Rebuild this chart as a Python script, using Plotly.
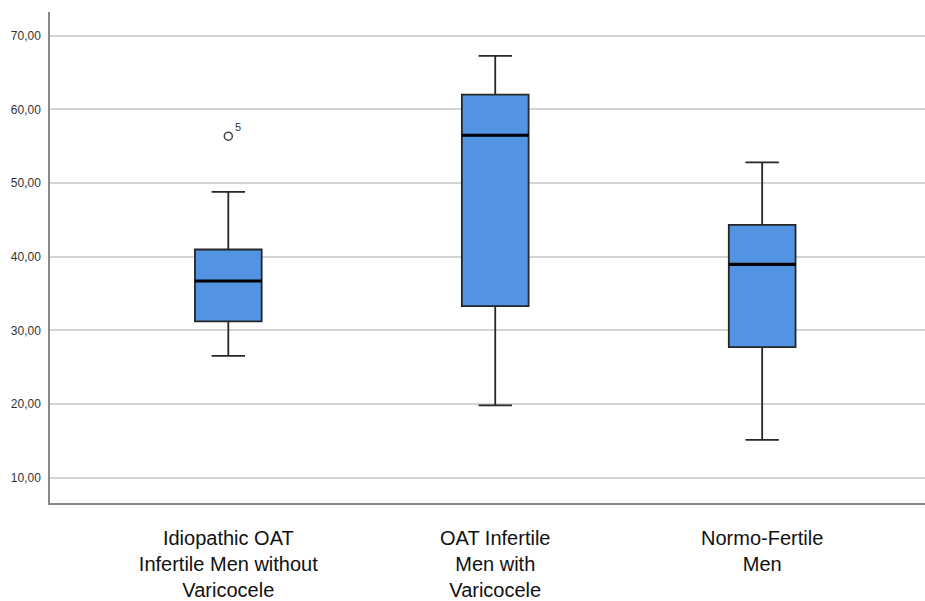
import plotly.graph_objects as go

categories = ["Idiopathic OAT<br>Infertile Men without<br>Varicocele",
              "OAT Infertile<br>Men with<br>Varicocele",
              "Normo-Fertile<br>Men"]
q1 = [31.23, 33.30, 27.74]
median = [36.71, 56.48, 38.96]
q3 = [40.98, 62.00, 44.31]
lower_whisker = [26.56, 19.83, 15.15]
upper_whisker = [48.80, 67.26, 52.80]
outlier_group = [0]
outlier_value = [56.35]
outlier_label = ["5"]
y_ticks = [10, 20, 30, 40, 50, 60, 70]

box_width = 0.25
xpos = list(range(len(categories)))

fig = go.Figure()
fig.add_trace(go.Box(
    x=xpos, q1=q1, median=median, q3=q3,
    lowerfence=lower_whisker, upperfence=upper_whisker,
    width=box_width, whiskerwidth=0.5,
    fillcolor="#5294E2", line=dict(color="#262626", width=1.8),
    boxpoints=False, hoverinfo="skip", showlegend=False,
))
# thick median lines
for xi, m in zip(xpos, median):
    fig.add_trace(go.Scatter(
        x=[xi - box_width / 2, xi + box_width / 2], y=[m, m], mode="lines",
        line=dict(color="#000000", width=3.2), showlegend=False, hoverinfo="skip",
    ))
fig.add_trace(go.Scatter(
    x=[xpos[g] for g in outlier_group], y=outlier_value, mode="markers",
    marker=dict(symbol="circle-open", size=8, color="#444444", line=dict(width=1.5)),
    showlegend=False, hoverinfo="skip",
))
for g, v, lab in zip(outlier_group, outlier_value, outlier_label):
    fig.add_annotation(x=xpos[g], y=v, text=lab, showarrow=False,
                       xshift=10, yshift=9,
                       font=dict(family="Liberation Sans, Arial", size=11, color="#333333"))

fig.update_layout(
    width=925, height=601,
    margin=dict(l=50, r=0, t=12, b=94),
    paper_bgcolor="white", plot_bgcolor="white",
    separators=",.",
    font=dict(family="Liberation Sans, Arial", color="#222222"),
)
fig.update_xaxes(
    range=[-0.668, 2.61], tickvals=xpos, ticktext=categories,
    tickfont=dict(size=20, color="#111111"), showgrid=False, zeroline=False,
    showline=True, linecolor="#8a8a8a", linewidth=1.5, ticks="",
    ticklabelstandoff=16,
)
fig.update_yaxes(
    range=[6.59, 73.2], tickvals=y_ticks, tickformat=".2f",
    tickfont=dict(size=12, color="#333333"), showgrid=True,
    gridcolor="#d4d4d4", gridwidth=1.6, zeroline=False,
    showline=True, linecolor="#8a8a8a", linewidth=1.5, ticks="",
    ticklabelstandoff=5,
)
fig.write_html("out.html", config={"displayModeBar": False},
               post_script="document.body.style.margin='0';document.body.style.overflow='hidden';")
